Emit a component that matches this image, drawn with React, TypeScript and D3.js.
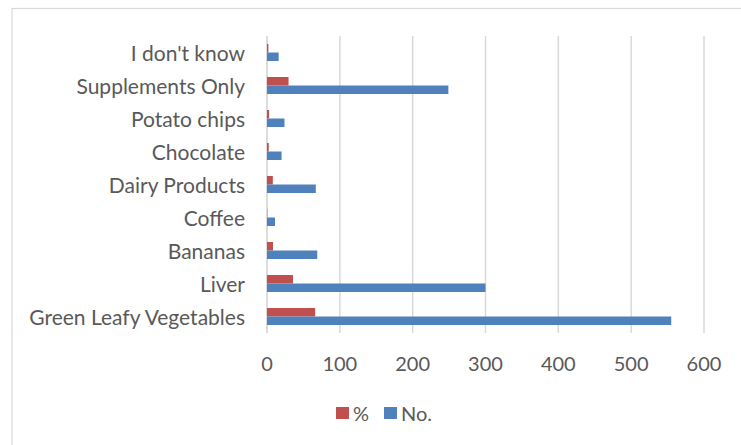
import React from "react";
import * as d3 from "d3";

// Foods listed top to bottom as they appear on the chart
const categories = [
  "I don't know",
  "Supplements Only",
  "Potato chips",
  "Chocolate",
  "Dairy Products",
  "Coffee",
  "Bananas",
  "Liver",
  "Green Leafy Vegetables",
];

// Number of respondents per food source
const countValues = [16, 249, 24, 20, 67, 11, 69, 300, 555];
// Share of respondents (%)
const percentValues = [1.9, 29.6, 2.9, 2.4, 8.0, 0.4, 8.2, 35.7, 66.1];

const xTicks = [0, 100, 200, 300, 400, 500, 600];

const seriesNames = ["%", "No."];
const seriesColors: Record<string, string> = { "%": "#C0504D", "No.": "#4F81BD" };

const W = 741;
const H = 445;
const FONT = "Lato, 'Open Sans', sans-serif";
const TEXT = "#595959";

export default function App() {
  const x = d3.scaleLinear().domain([0, 600]).range([267, 704]);
  const y = d3.scaleBand<string>().domain(categories).range([36, 333]).padding(0);
  const groupH = 17;
  const inner = d3
    .scaleBand<string>()
    .domain(seriesNames)
    .range([-groupH / 2, groupH / 2])
    .padding(0);

  const rows = categories.map((c, i) => ({
    cat: c,
    vals: { "%": percentValues[i], "No.": countValues[i] } as Record<string, number>,
  }));

  return (
    <svg
      width={W}
      height={H}
      style={{ position: "absolute", left: 0, top: 0, background: "#fff" }}
      fontFamily={FONT}
    >
      <rect x={0} y={0} width={W} height={H} fill="#fff" />
      {/* chart frame */}
      <rect x={12} y={8.5} width={W + 20} height={H + 20} fill="none" stroke="#d9d9d9" strokeWidth={1.2} />

      {/* vertical gridlines */}
      {xTicks.map((t) => (
        <line
          key={t}
          x1={x(t)}
          x2={x(t)}
          y1={36}
          y2={333}
          stroke="#d9d9d9"
          strokeWidth={t === 0 ? 1.8 : 1.5}
        />
      ))}

      {/* bars */}
      {rows.map((r) => {
        const cy = (y(r.cat) as number) + y.bandwidth() / 2;
        return (
          <g key={r.cat}>
            {seriesNames.map((s) => (
              <rect
                key={s}
                x={x(0)}
                y={cy + (inner(s) as number)}
                width={Math.max(0, x(r.vals[s]) - x(0))}
                height={inner.bandwidth()}
                fill={seriesColors[s]}
              />
            ))}
          </g>
        );
      })}

      {/* category labels */}
      {categories.map((c) => (
        <text
          key={c}
          x={245}
          y={(y(c) as number) + y.bandwidth() / 2}
          textAnchor="end"
          dominantBaseline="central"
          fontSize={21}
          fill={TEXT}
        >
          {c}
        </text>
      ))}

      {/* x tick labels */}
      {xTicks.map((t) => (
        <text
          key={t}
          x={x(t)}
          y={363}
          textAnchor="middle"
          dominantBaseline="central"
          fontSize={20}
          fill={TEXT}
        >
          {t}
        </text>
      ))}

      {/* legend */}
      <g>
        <rect x={336} y={407} width={13} height={12} fill={seriesColors["%"]} />
        <text x={353} y={413} dominantBaseline="central" fontSize={20} fill={TEXT}>
          %
        </text>
        <rect x={384} y={407} width={13} height={12} fill={seriesColors["No."]} />
        <text x={401} y={413} dominantBaseline="central" fontSize={20} fill={TEXT}>
          No.
        </text>
      </g>
    </svg>
  );
}
